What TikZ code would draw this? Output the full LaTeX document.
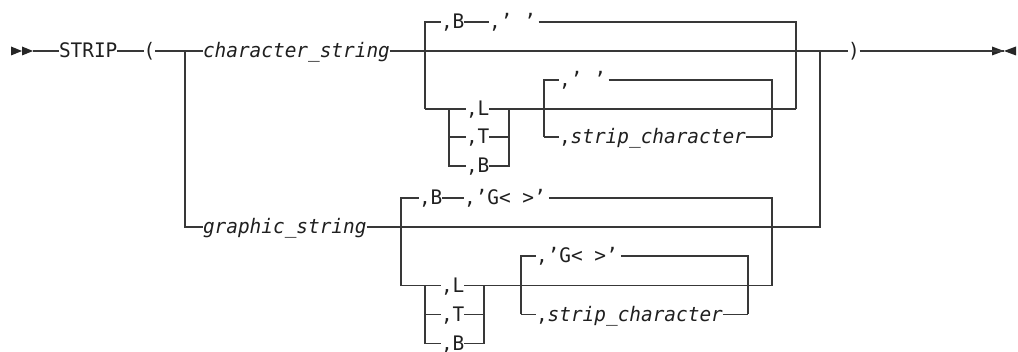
\documentclass[tikz,border=0pt]{standalone}
\usepackage{fontspec}
\newfontfamily\dmono[FakeStretch=0.97]{DejaVu Sans Mono}
\begin{document}
\begin{tikzpicture}[x=1pt,y=-1pt,
  ln/.style={draw=black!78,line width=1.2pt,line join=miter},
  lbl/.style={inner sep=0pt,outer sep=0pt,text height=13.6pt,text depth=0pt,
    anchor=west,text=black!88,font=\dmono\fontsize{20}{24}\selectfont},
  tip/.style={fill=black!85,draw=none}]
\useasboundingbox (0,0) rectangle (1018,352);
% start / end markers
\fill[tip] (11,46.5) -- (22,51) -- (11,55.5) -- cycle;
\fill[tip] (22,46.5) -- (33,51) -- (22,55.5) -- cycle;
\fill[tip] (992,46.5) -- (1004,51) -- (992,55.5) -- cycle;
\fill[tip] (1016,46.5) -- (1004,51) -- (1016,55.5) -- cycle;
\coordinate (start) at (33,51);
\coordinate (end) at (1004,51);
% main row
\node[lbl] (strip) at (59,51) {STRIP};
\node[lbl] (lp) at (143.5,51) {(};
\coordinate (j1) at (185,51);
\node[lbl] (cs) at (203,51) {\itshape character\_string};
\coordinate (j2) at (820,51);
\node[lbl] (rp) at (848,51) {)};
% group 1
\coordinate (g1L) at (425,51);
\coordinate (g1R) at (796,51);
\coordinate (g1Lt) at (425,22);
\coordinate (g1Rt) at (796,22);
\coordinate (g1Lb) at (425,109);
\coordinate (g1Rb) at (796,109);
\node[lbl] (b1) at (441,22) {,B};
\node[lbl] (q1) at (489,22) {,’ ’};
\coordinate (k1a) at (449,109);
\coordinate (k1b) at (449,137);
\coordinate (k1c) at (449,166);
\coordinate (m1a) at (509,109);
\coordinate (m1b) at (509,137);
\coordinate (m1c) at (509,166);
\node[lbl] (l1) at (466,109) {,L};
\node[lbl] (t1) at (466,137) {,T};
\node[lbl] (bb1) at (466,166) {,B};
\coordinate (n1) at (544,109);
\coordinate (n1t) at (544,80);
\coordinate (n1b) at (544,137);
\coordinate (p1) at (772,109);
\coordinate (p1t) at (772,80);
\coordinate (p1b) at (772,137);
\node[lbl] (q2) at (559,80) {,’ ’};
\node[lbl] (sc1) at (559,137) {,\itshape strip\_character};
% group 2
\coordinate (j1b) at (185,227);
\coordinate (j2b) at (820,227);
\node[lbl] (gs) at (203,227) {\itshape graphic\_string};
\coordinate (g2L) at (401,227);
\coordinate (g2R) at (772,227);
\coordinate (g2Lt) at (401,198);
\coordinate (g2Rt) at (772,198);
\coordinate (g2Lb) at (401,285.7);
\coordinate (g2Rb) at (772,285.7);
\node[lbl] (b2) at (419,198) {,B};
\node[lbl] (g2) at (464,198) {,’G< >’};
\coordinate (k2a) at (425,285.7);
\coordinate (k2b) at (425,314.3);
\coordinate (k2c) at (425,343.3);
\coordinate (m2a) at (484,285.7);
\coordinate (m2b) at (484,314.3);
\coordinate (m2c) at (484,343.3);
\node[lbl] (l2) at (441,285.7) {,L};
\node[lbl] (t2) at (441,314.3) {,T};
\node[lbl] (bb2) at (441,343.3) {,B};
\coordinate (n2) at (521,285.7);
\coordinate (n2t) at (521,256);
\coordinate (n2b) at (521,314.3);
\coordinate (p2) at (748,285.7);
\coordinate (p2t) at (748,256);
\coordinate (p2b) at (748,314.3);
\node[lbl] (g3) at (536,256) {,’G< >’};
\node[lbl] (sc2) at (536,314.3) {,\itshape strip\_character};
% connectors: main
\draw[ln] (start) -- (strip.west);
\draw[ln] (strip.east) -- (lp.west);
\draw[ln] (lp.east) -- (j1) -- (cs.west);
\draw[ln] (cs.east) -- (g1L) -- (g1R) -- (j2) -- (rp.west);
\draw[ln] (rp.east) -- (end);
% group 1
\draw[ln] (g1Lb) -- (g1Lt) -- (b1.west);
\draw[ln] (b1.east) -- (q1.west);
\draw[ln] ([xshift=3pt]q1.east) -- (g1Rt) -- (g1Rb);
\draw[ln] (g1Lb) -- (k1a) -- (l1.west);
\draw[ln] (l1.east) -- (m1a) -- (n1) -- (g1Rb);
\draw[ln] (k1a) -- (k1c) -- (bb1.west);
\draw[ln] (k1b) -- (t1.west);
\draw[ln] (t1.east) -- (m1b);
\draw[ln] (bb1.east) -- (m1c) -- (m1a);
\draw[ln] (n1b) -- (n1t) -- (q2.west);
\draw[ln] ([xshift=3pt]q2.east) -- (p1t) -- (p1b);
\draw[ln] (n1b) -- (sc1.west);
\draw[ln] (sc1.east) -- (p1b);
% group 2
\draw[ln] (j1) -- (j1b) -- (gs.west);
\draw[ln] (gs.east) -- (g2L) -- (g2R) -- (j2b) -- (j2);
\draw[ln] (g2Lb) -- (g2Lt) -- (b2.west);
\draw[ln] (b2.east) -- (g2.west);
\draw[ln] ([xshift=3pt]g2.east) -- (g2Rt) -- (g2Rb);
\draw[ln] (g2Lb) -- (k2a) -- (l2.west);
\draw[ln] (l2.east) -- (m2a) -- (n2) -- (g2Rb);
\draw[ln] (k2a) -- (k2c) -- (bb2.west);
\draw[ln] (k2b) -- (t2.west);
\draw[ln] (t2.east) -- (m2b);
\draw[ln] (bb2.east) -- (m2c) -- (m2a);
\draw[ln] (n2b) -- (n2t) -- (g3.west);
\draw[ln] ([xshift=3pt]g3.east) -- (p2t) -- (p2b);
\draw[ln] (n2b) -- (sc2.west);
\draw[ln] (sc2.east) -- (p2b);
\end{tikzpicture}
\end{document}
